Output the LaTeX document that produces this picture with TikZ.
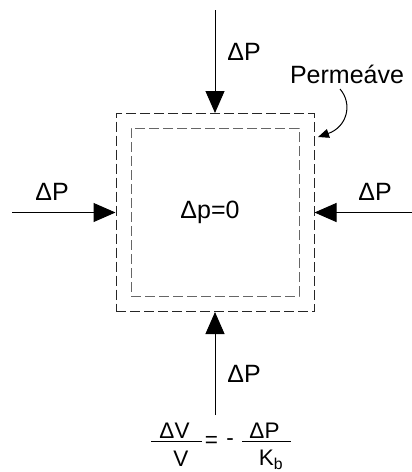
\documentclass[tikz,border=0pt]{standalone}
\usepackage{fontspec}
\setmainfont{Liberation Sans}
\usetikzlibrary{arrows.meta}
\begin{document}
\begin{tikzpicture}[x=1pt,y=-1pt,
  lbl/.style={font=\fontsize{25}{29}\selectfont, inner sep=0pt},
  flbl/.style={font=\fontsize{22.5}{26}\selectfont, inner sep=0pt},
  bigarrow/.style={line width=1pt, -{Triangle[length=22pt,width=19pt]}},
  smallarrow/.style={line width=1pt, -{Triangle[length=11pt,width=9pt]}},
  outerbox/.style={draw=black!85, line width=1pt, dash pattern=on 10pt off 4pt, minimum width=198pt, minimum height=198pt, inner sep=0pt},
  innerbox/.style={draw=black!60, line width=1pt, dash pattern=on 10pt off 4pt, minimum width=168pt, minimum height=168pt, inner sep=0pt},
  fbar/.style={line width=1pt}
]
\useasboundingbox (0,0) rectangle (412,472);
\fill[white] (0,0) rectangle (412,472);

\node[outerbox] (outer) at (215,212.5) {};
\node[innerbox] (inner) at (215,212) {};

\node[lbl] (center) at (210,212) {Δp=0};

% arrows
\coordinate (ttop) at (215,10);
\coordinate (tleft) at (12,212.5);
\coordinate (tright) at (412,212.5);
\coordinate (tbot) at (215,415);
\draw[bigarrow] (ttop) -- (outer.north);
\draw[bigarrow] (tleft) -- (outer.west);
\draw[bigarrow] (tright) -- (outer.east);
\draw[bigarrow] (tbot) -- (outer.south);

\node[lbl] (ltop) at (244,52) {ΔP};
\node[lbl] (lleft) at (52,192) {ΔP};
\node[lbl] (lright) at (375,192) {ΔP};
\node[lbl] (lbot) at (244,374) {ΔP};

% Permeave label
\node[lbl] (perm) at (347,74) {Permeáve};
\coordinate (ps) at (340,89);
\coordinate (pe) at (318,137);
\draw[smallarrow] (ps) .. controls (353,104) and (347,127) .. (pe);

% formula
\node[flbl] (n1) at (174.5,431) {ΔV};
\node[flbl] (d1) at (181,459) {V};
\coordinate (b1a) at (151,441);
\coordinate (b1b) at (202,441);
\draw[fbar] (b1a) -- (b1b);
\node[flbl] (eq) at (211.5,441.5) {=};
\node[flbl] (minus) at (230,442) {-};
\coordinate (b2a) at (242,441);
\coordinate (b2b) at (291,441);
\draw[fbar] (b2a) -- (b2b);
\node[flbl] (n2) at (264.5,431) {ΔP};
\node[flbl] (d2) at (271,460) {K\textsubscript{b}};
\end{tikzpicture}
\end{document}
